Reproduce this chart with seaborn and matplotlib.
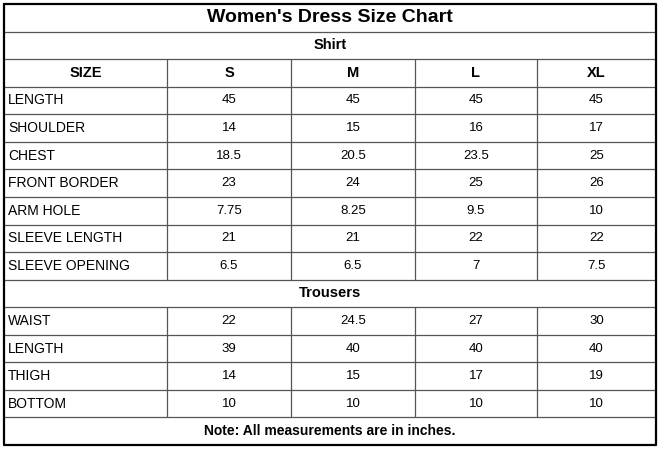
import matplotlib
matplotlib.use("Agg")
import matplotlib.pyplot as plt
import seaborn as sns

sns.set_style("white")
plt.rcParams['font.family'] = ['Liberation Sans', 'DejaVu Sans']
plt.rcParams['text.color'] = 'black'

title = "Women's Dress Size Chart"
sizes = ["S", "M", "L", "XL"]
shirt_labels = ["LENGTH", "SHOULDER", "CHEST", "FRONT BORDER", "ARM HOLE", "SLEEVE LENGTH", "SLEEVE OPENING"]
shirt_values = [["45", "45", "45", "45"], ["14", "15", "16", "17"], ["18.5", "20.5", "23.5", "25"],
                ["23", "24", "25", "26"], ["7.75", "8.25", "9.5", "10"], ["21", "21", "22", "22"],
                ["6.5", "6.5", "7", "7.5"]]
trouser_labels = ["WAIST", "LENGTH", "THIGH", "BOTTOM"]
trouser_values = [["22", "24.5", "27", "30"], ["39", "40", "40", "40"], ["14", "15", "17", "19"],
                  ["10", "10", "10", "10"]]
note = "Note: All measurements are in inches."

fig = plt.figure(figsize=(6.6, 4.49), dpi=100)
ax = fig.add_axes([0, 0, 1, 1])
ax.set_xlim(0, 660); ax.set_ylim(449, 0); ax.axis("off")

x0, x1 = 4, 656
y0, y1 = 4, 445
cols = [4, 167, 291, 415, 537, 656]
nrows = 16
rh = (y1 - y0) / nrows
ys = [y0 + i * rh for i in range(nrows + 1)]

full_rows = {0, 1, 10, 15}
lc = "#555555"
for i in range(1, nrows):
    ax.plot([x0, x1], [ys[i], ys[i]], color=lc, lw=0.9)
for i in range(nrows):
    if i in full_rows:
        continue
    for c in cols[1:-1]:
        ax.plot([c, c], [ys[i], ys[i + 1]], color=lc, lw=0.9)
ax.plot([x0, x1, x1, x0, x0], [y0, y0, y1, y1, y0], color="black", lw=1.6)

def mid(i):
    return (ys[i] + ys[i + 1]) / 2

cx = [(cols[j] + cols[j + 1]) / 2 for j in range(5)]
ax.text(330, mid(0), title, ha="center", va="center", fontsize=14, fontweight="bold", color="black")
ax.text(330, mid(1), "Shirt", ha="center", va="center", fontsize=10.5, fontweight="bold", color="black")
ax.text(cx[0], mid(2), "SIZE", ha="center", va="center", fontsize=10.5, fontweight="bold", color="black")
for j, s in enumerate(sizes):
    ax.text(cx[j + 1], mid(2), s, ha="center", va="center", fontsize=10.5, fontweight="bold", color="black")

def rows(start, labels, values):
    for k, (lab, vals) in enumerate(zip(labels, values)):
        r = start + k
        ax.text(8, mid(r), lab, ha="left", va="center", fontsize=10, color="black")
        for j, v in enumerate(vals):
            ax.text(cx[j + 1], mid(r), v, ha="center", va="center", fontsize=9.5, color="black")

rows(3, shirt_labels, shirt_values)
ax.text(330, mid(10), "Trousers", ha="center", va="center", fontsize=10.5, fontweight="bold", color="black")
rows(11, trouser_labels, trouser_values)
ax.text(330, mid(15), note, ha="center", va="center", fontsize=10, fontweight="bold", color="black")

fig.savefig("out.png", dpi=100, facecolor="white")
